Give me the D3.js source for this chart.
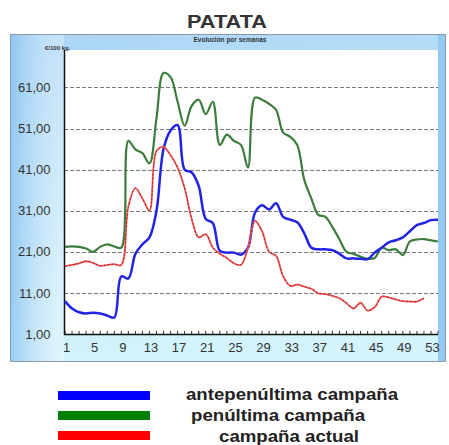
<!DOCTYPE html>
<html>
<head>
<meta charset="utf-8">
<script src="https://cdn.jsdelivr.net/npm/d3@7"></script>
<style>
  body { margin: 0; background: #fff; }
  svg { display: block; }
</style>
</head>
<body>
<svg id="chart" width="449" height="445"></svg>
<script>
// === DATA ===
const weeks = d3.range(1, 55); // categories 1..54 (axis labelled every 4 weeks)
const xTickLabels = [1, 5, 9, 13, 17, 21, 25, 29, 33, 37, 41, 45, 49, 53];
const yTickLabels = [1, 11, 21, 31, 41, 51, 61];

// antepenúltima campaña
const blueValues = [9.0, 7.2, 6.3, 6.0, 6.2, 6.0, 5.5, 5.0, 15.0, 14.5,
  20.5, 22.8, 24.5, 31, 46, 50.5, 51.8, 41, 40.3, 37,
  29, 28, 21.2, 20.8, 20.8, 20.3, 22, 30.5, 32.3, 31.3,
  32.8, 29.5, 28.8, 28.2, 25.5, 22, 21.6, 21.6, 21.4, 20.5,
  19.4, 19.4, 19.3, 19.2, 20.8, 22, 23.3, 23.8, 24.5, 26,
  27.5, 28, 28.7, 28.8];
// penúltima campaña
const greenValues = [22.2, 22.3, 22.2, 21.8, 21.0, 22.2, 22.8, 22.3, 22.0, 48,
  45.9, 45, 42.5, 53.5, 64.5, 63.5, 57.5, 51.7, 56.5, 58,
  54.5, 57.5, 47, 49.5, 48, 47, 41.5, 58.5, 58, 57,
  55.5, 50, 49, 47, 38.5, 34, 30, 29.5, 27, 24,
  21, 20.5, 19.8, 19.3, 19.5, 22, 21.4, 21.6, 20.2, 23.5,
  24, 24.1, 23.8, 23.5];
// campaña actual
const redValues = [17.5, 17.8, 18.2, 18.7, 18.3, 17.6, 17.8, 18.0, 17.8, 32,
  36.5, 34, 31, 45.5, 46.5, 44.5, 41.5, 36.5, 29, 24.5,
  25.3, 22, 20.5, 19.5, 18.2, 17.8, 22, 28.5, 26, 21,
  20, 15, 12.7, 13, 12.5, 12, 10.9, 10.7, 10.3, 9.7,
  8.5, 7.2, 8.6, 6.7, 7.5, 10.1, 9.9, 9.4, 9.0, 8.9,
  8.9, 9.7];

const seriesNames = ["antepenúltima campaña", "penúltima campaña", "campaña actual"];
const legendColors = ["#0000ff", "#008000", "#ff0000"];

// === SVG SETUP ===
const svg = d3.select("#chart");
const plot = { left: 64, right: 438, top: 50, bottom: 334 };

const x = d3.scaleLinear().domain([1, 54]).range([65, plot.right]);
const y = d3.scaleLinear().domain([1, 61]).range([plot.bottom, 87.4]);

const fmt = v => d3.format(".2f")(v).replace(".", ",");

// === BACKGROUND FRAME ===
const defs = svg.append("defs");
const bgGrad = defs.append("linearGradient").attr("id", "bgGrad")
  .attr("x1", 0).attr("y1", 0).attr("x2", 0.25).attr("y2", 1);
bgGrad.append("stop").attr("offset", "0%").attr("stop-color", "#aad5f6");
bgGrad.append("stop").attr("offset", "100%").attr("stop-color", "#d3f4fc");

const leftGrad = defs.append("linearGradient").attr("id", "leftGrad")
  .attr("x1", 0).attr("y1", 0).attr("x2", 1).attr("y2", 0);
leftGrad.append("stop").attr("offset", "0%").attr("stop-color", "#86c2f0").attr("stop-opacity", 0.8);
leftGrad.append("stop").attr("offset", "100%").attr("stop-color", "#ffffff").attr("stop-opacity", 0.3);

svg.append("rect")
  .attr("x", 10).attr("y", 34).attr("width", 436).attr("height", 328)
  .attr("fill", "url(#bgGrad)");
svg.append("rect")
  .attr("x", 10).attr("y", 34).attr("width", 54).attr("height", 328)
  .attr("fill", "url(#leftGrad)");
svg.append("rect")
  .attr("x", plot.right).attr("y", 34).attr("width", 8).attr("height", 328)
  .attr("fill", "#95cbf1");
svg.append("rect")
  .attr("x", 10.5).attr("y", 34.5).attr("width", 435).attr("height", 327)
  .attr("fill", "none").attr("stroke", "#8a9aa8").attr("stroke-width", 1);

// plot area
svg.append("rect")
  .attr("x", plot.left).attr("y", plot.top)
  .attr("width", plot.right - plot.left).attr("height", plot.bottom - plot.top)
  .attr("fill", "#ffffff");

// === TITLES ===
svg.append("text")
  .attr("x", 227).attr("y", 28)
  .attr("text-anchor", "middle")
  .attr("font-family", "Liberation Sans, Arial, sans-serif")
  .attr("font-weight", "bold").attr("font-size", 18)
  .attr("textLength", 80).attr("lengthAdjust", "spacingAndGlyphs")
  .attr("fill", "#333")
  .text("PATATA");

svg.append("text")
  .attr("x", 230).attr("y", 42)
  .attr("text-anchor", "middle")
  .attr("font-family", "Liberation Sans, Arial, sans-serif")
  .attr("font-weight", "bold").attr("font-size", 6.5)
  .attr("fill", "#333")
  .text("Evolución por semanas");

svg.append("text")
  .attr("x", 45).attr("y", 50)
  .attr("font-family", "Liberation Sans, Arial, sans-serif")
  .attr("font-weight", "bold").attr("font-size", 6)
  .attr("fill", "#333")
  .text("€/100 kg.");

// === GRIDLINES ===
svg.append("g")
  .selectAll("line")
  .data(yTickLabels.filter(v => v > 1))
  .enter().append("line")
  .attr("x1", plot.left).attr("x2", plot.right)
  .attr("y1", d => Math.round(y(d)) + 0.5).attr("y2", d => Math.round(y(d)) + 0.5)
  .attr("stroke", "#7a7a7a").attr("stroke-width", 1)
  .attr("stroke-dasharray", "4,2");

// === AXES ===
const yAxis = d3.axisLeft(y)
  .tickValues(yTickLabels)
  .tickFormat(fmt)
  .tickSize(0).tickPadding(14);
const yG = svg.append("g").attr("transform", `translate(${plot.left + 0.5},0)`).call(yAxis);
yG.select(".domain").remove();
yG.selectAll("text")
  .attr("font-family", "Liberation Sans, Arial, sans-serif")
  .attr("font-size", 13).attr("fill", "#333");

const xAxis = d3.axisBottom(x)
  .tickValues(xTickLabels)
  .tickFormat(d3.format("d"))
  .tickSize(0).tickPadding(9);
const xG = svg.append("g").attr("transform", `translate(1,${plot.bottom})`).call(xAxis);
xG.select(".domain").remove();
xG.selectAll("text")
  .attr("font-family", "Liberation Sans, Arial, sans-serif")
  .attr("font-size", 13).attr("fill", "#333");

// minor ticks for each week, pointing into the plot
svg.append("g")
  .selectAll("line")
  .data(weeks)
  .enter().append("line")
  .attr("x1", d => x(d)).attr("x2", d => x(d))
  .attr("y1", plot.bottom).attr("y2", plot.bottom - 3)
  .attr("stroke", "#333").attr("stroke-width", 1);

// axis lines
svg.append("line")
  .attr("x1", plot.left + 0.5).attr("x2", plot.left + 0.5)
  .attr("y1", plot.top).attr("y2", plot.bottom + 1)
  .attr("stroke", "#111").attr("stroke-width", 1.5);
svg.append("line")
  .attr("x1", plot.left).attr("x2", plot.right)
  .attr("y1", plot.bottom + 0.5).attr("y2", plot.bottom + 0.5)
  .attr("stroke", "#111").attr("stroke-width", 1.5);

// === SERIES LINES ===
defs.append("clipPath").attr("id", "plotClip")
  .append("rect")
  .attr("x", plot.left).attr("y", plot.top)
  .attr("width", plot.right - plot.left).attr("height", plot.bottom - plot.top);

const line = d3.line()
  .x((d, i) => x(weeks[i]))
  .y(d => y(d))
  .curve(d3.curveCatmullRom.alpha(0.5));

const lines = svg.append("g").attr("clip-path", "url(#plotClip)");

lines.append("path")
  .attr("d", line(greenValues))
  .attr("fill", "none").attr("stroke", "#3b7d3b").attr("stroke-width", 2.2);

lines.append("path")
  .attr("d", line(blueValues))
  .attr("fill", "none").attr("stroke", "#2323e8").attr("stroke-width", 2.5);

lines.append("path")
  .attr("d", line(redValues))
  .attr("fill", "none").attr("stroke", "#f05a5a").attr("stroke-width", 1.8);
lines.append("path")
  .attr("d", line(redValues))
  .attr("fill", "none").attr("stroke", "#b01818").attr("stroke-width", 0.9)
  .attr("stroke-dasharray", "2,2");

// === LEGEND ===
const legendRows = [
  { name: seriesNames[0], color: legendColors[0], top: 391, textX: 186, textY: 400, len: 212 },
  { name: seriesNames[1], color: legendColors[1], top: 411, textX: 191, textY: 421, len: 174 },
  { name: seriesNames[2], color: legendColors[2], top: 431, textX: 219, textY: 442, len: 140 }
];

const legend = svg.append("g");
legend.selectAll("rect")
  .data(legendRows)
  .enter().append("rect")
  .attr("x", 58).attr("y", d => d.top)
  .attr("width", 92).attr("height", 9)
  .attr("fill", d => d.color);

legend.selectAll("text")
  .data(legendRows)
  .enter().append("text")
  .attr("x", d => d.textX).attr("y", d => d.textY)
  .attr("font-family", "Liberation Sans, Arial, sans-serif")
  .attr("font-weight", "bold").attr("font-size", 16)
  .attr("textLength", d => d.len).attr("lengthAdjust", "spacingAndGlyphs")
  .attr("fill", "#222")
  .text(d => d.name);
</script>
</body>
</html>
